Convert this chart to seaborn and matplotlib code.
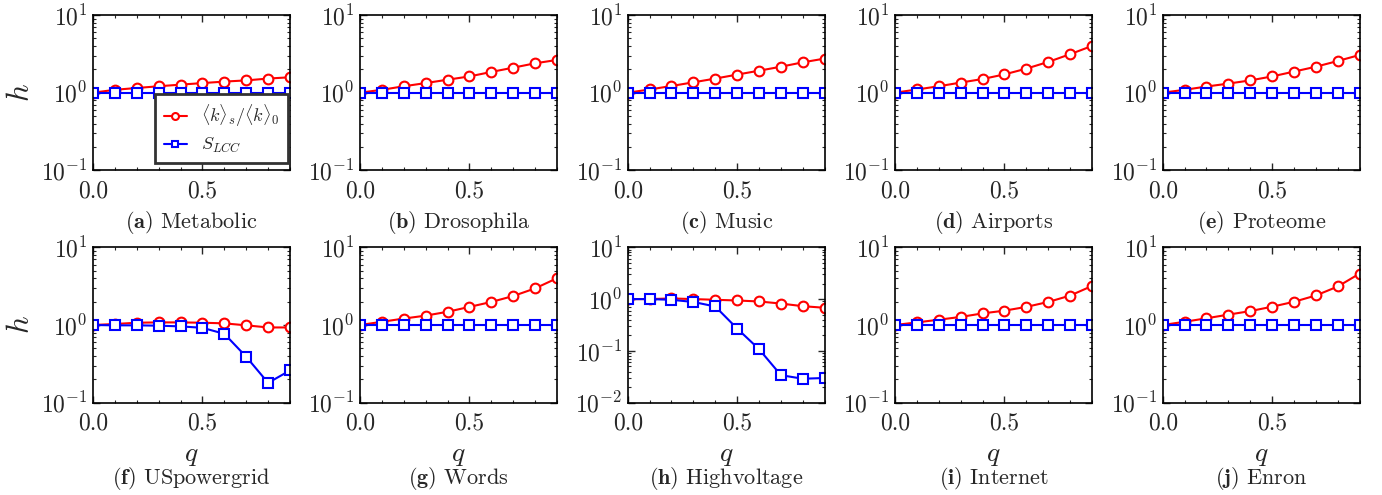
import numpy as np
import matplotlib
matplotlib.use("Agg")
import matplotlib.pyplot as plt
import seaborn as sns
from matplotlib.ticker import LogLocator, MultipleLocator, LogFormatterMathtext, NullFormatter, FormatStrFormatter

sns.set_style("ticks")
plt.rcParams.update({
    "font.family": "serif",
    "font.serif": ["cmr10", "DejaVu Serif"],
    "mathtext.fontset": "cm",
    "axes.unicode_minus": False,
    "axes.formatter.use_mathtext": True,
})

q = [0.0, 0.1, 0.2, 0.3, 0.4, 0.5, 0.6, 0.7, 0.8, 0.9]
names = ["Metabolic", "Drosophila", "Music", "Airports", "Proteome",
         "USpowergrid", "Words", "Highvoltage", "Internet", "Enron"]
letters = ["a", "b", "c", "d", "e", "f", "g", "h", "i", "j"]

k_metabolic = [1.0, 1.09, 1.15, 1.21, 1.27, 1.33, 1.39, 1.44, 1.52, 1.58]
k_drosophila = [1.0, 1.09, 1.21, 1.33, 1.47, 1.62, 1.85, 2.10, 2.39, 2.64]
k_music = [1.0, 1.10, 1.22, 1.36, 1.52, 1.71, 1.92, 2.16, 2.46, 2.75]
k_airports = [1.0, 1.10, 1.21, 1.35, 1.50, 1.72, 2.04, 2.49, 3.13, 4.0]
k_proteome = [1.0, 1.09, 1.20, 1.31, 1.44, 1.62, 1.87, 2.16, 2.56, 3.06]
k_uspowergrid = [1.0, 1.03, 1.07, 1.08, 1.08, 1.07, 1.05, 0.99, 0.93, 0.93]
k_words = [1.0, 1.10, 1.21, 1.32, 1.48, 1.71, 1.98, 2.36, 2.96, 4.0]
k_highvoltage = [1.0, 1.0, 1.03, 1.0, 0.97, 0.94, 0.90, 0.82, 0.73, 0.68]
k_internet = [1.0, 1.08, 1.17, 1.27, 1.41, 1.53, 1.71, 1.98, 2.39, 3.18]
k_enron = [1.0, 1.10, 1.22, 1.36, 1.51, 1.72, 1.99, 2.40, 3.13, 4.6]

ones = [1.0] * 10
s_uspowergrid = [1.0, 0.99, 0.99, 0.98, 0.96, 0.92, 0.77, 0.39, 0.18, 0.26]
s_highvoltage = [1.0, 1.0, 0.97, 0.88, 0.72, 0.27, 0.108, 0.034, 0.029, 0.030]

k_series = [k_metabolic, k_drosophila, k_music, k_airports, k_proteome,
            k_uspowergrid, k_words, k_highvoltage, k_internet, k_enron]
s_series = [ones, ones, ones, ones, ones,
            s_uspowergrid, ones, s_highvoltage, ones, ones]

fig = plt.figure(figsize=(13.82, 4.95), dpi=100)
W, H = 1382, 495
lefts = [93, 360, 627.7, 895, 1162.7]
aw = 197
tops = [15, 247.3]
ah = 155.4

for i in range(10):
    r, c = divmod(i, 5)
    ax = fig.add_axes([lefts[c] / W, 1 - (tops[r] + ah) / H, aw / W, ah / H])
    sns.lineplot(x=q, y=k_series[i], ax=ax, color="#ff0000", marker="o",
                 markerfacecolor="white", markeredgecolor="#ff0000",
                 markersize=7, markeredgewidth=1.5, linewidth=1.5,
                 label=r"$\langle k\rangle_s/\langle k\rangle_0$", legend=False)
    sns.lineplot(x=q, y=s_series[i], ax=ax, color="#0000ff", marker="s",
                 markerfacecolor="white", markeredgecolor="#0000ff",
                 markersize=6.5, markeredgewidth=1.5, linewidth=1.5,
                 label=r"$S_{LCC}$", legend=False)
    ax.set_yscale("log")
    ax.set_xlim(0, 0.9)
    if i == 7:
        ax.set_ylim(0.01, 10)
    else:
        ax.set_ylim(0.1, 10)
    ax.xaxis.set_major_locator(MultipleLocator(0.5))
    ax.xaxis.set_minor_locator(MultipleLocator(0.1))
    ax.xaxis.set_major_formatter(FormatStrFormatter("%.1f"))
    ax.yaxis.set_major_locator(LogLocator(base=10, numticks=10))
    ax.yaxis.set_minor_locator(LogLocator(base=10, subs=np.arange(2, 10), numticks=20))
    ax.yaxis.set_major_formatter(LogFormatterMathtext())
    ax.yaxis.set_minor_formatter(NullFormatter())
    ax.tick_params(which="both", direction="in", top=True, right=True)
    ax.tick_params(which="major", length=5, width=1, labelsize=17)
    ax.tick_params(axis="x", which="major", pad=7)
    ax.tick_params(axis="y", which="major", pad=4)
    ax.tick_params(which="minor", length=2.5, width=0.8)
    for sp in ax.spines.values():
        sp.set_linewidth(1.2)
        sp.set_color("black")
    ax.set_xlabel("")
    ax.set_ylabel("")
    if c == 0:
        ax.set_ylabel(r"$h$", fontsize=22, labelpad=4)
    caption = r"$\mathbf{(" + letters[i] + r")}$ " + names[i]
    if r == 0:
        ax.text(0.5, -0.335, caption, transform=ax.transAxes,
                ha="center", va="center", fontsize=16)
    else:
        ax.text(0.5, -0.335, r"$q$", transform=ax.transAxes, ha="center",
                va="center", fontsize=20)
        ax.text(0.5, -0.49, caption, transform=ax.transAxes,
                ha="center", va="center", fontsize=16)
    if i == 0:
        leg = ax.legend(loc="lower right", fontsize=13, frameon=True,
                        fancybox=False, edgecolor="#333333", framealpha=1,
                        borderpad=0.45, handlelength=1.3, handletextpad=0.8,
                        labelspacing=0.4, borderaxespad=0.0,
                        bbox_to_anchor=(0.99, 0.045))
        leg.get_frame().set_linewidth(2.0)
        for h in leg.legend_handles:
            h.set_markersize(5)

fig.savefig("out.png", dpi=100)
